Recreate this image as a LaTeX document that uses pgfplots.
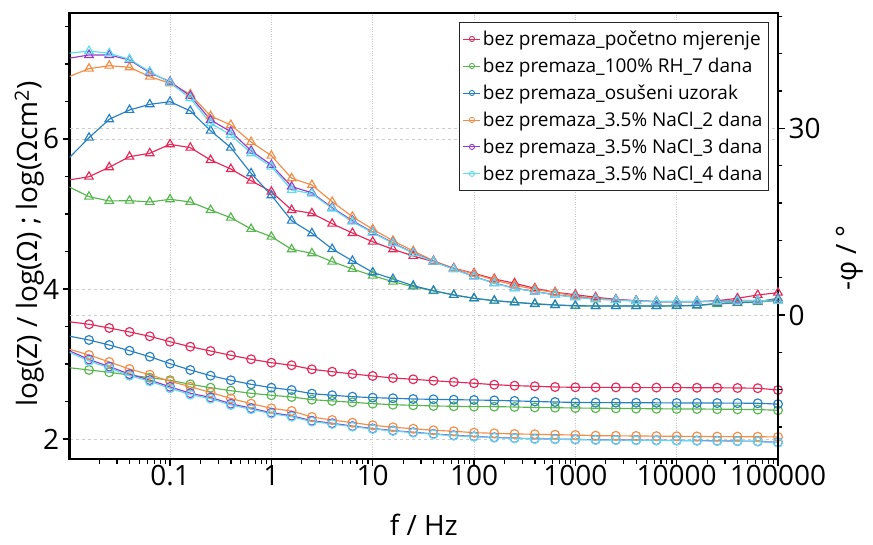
\documentclass[border=0pt]{standalone}
\usepackage{fontspec}
\setmainfont{Open Sans}
\usepackage{pgfplots}
\usepackage{pgfplotstable}
\pgfplotsset{compat=1.18}

\definecolor{cred}{RGB}{228,40,88}
\definecolor{cgreen}{RGB}{88,182,78}
\definecolor{cblue}{RGB}{38,128,196}
\definecolor{corange}{RGB}{243,140,68}
\definecolor{cpurple}{RGB}{150,58,200}
\definecolor{ccyan}{RGB}{88,222,240}

% log|Z| (circles)
\pgfplotstableread{
f      Zr     Zg     Zb     Zo     Zp     Zc
0.01   3.564  2.951  3.373  3.200  3.180  3.160
0.01585 3.529 2.920  3.320  3.120  3.060  3.040
0.02512 3.480 2.889  3.253  3.027  2.965  2.947
0.03981 3.427 2.853  3.177  2.933  2.865  2.844
0.06310 3.369 2.817  3.097  2.857  2.785  2.769
0.1    3.297  2.783  3.004  2.769  2.695  2.676
0.1585 3.231  2.729  2.920  2.697  2.610  2.591
0.2512 3.173  2.684  2.844  2.620  2.553  2.537
0.3981 3.116  2.644  2.783  2.540  2.470  2.453
0.6310 3.063  2.609  2.729  2.471  2.410  2.396
1      3.017  2.583  2.684  2.409  2.350  2.337
1.585  2.983  2.560  2.653  2.373  2.310  2.297
2.512  2.929  2.524  2.604  2.293  2.243  2.231
3.981  2.897  2.507  2.583  2.253  2.210  2.200
6.310  2.867  2.489  2.564  2.217  2.172  2.164
10     2.840  2.471  2.551  2.183  2.140  2.133
15.85  2.813  2.457  2.543  2.156  2.113  2.107
25.12  2.796  2.449  2.533  2.137  2.090  2.084
39.81  2.777  2.440  2.529  2.116  2.068  2.063
63.10  2.760  2.436  2.524  2.103  2.049  2.044
100    2.743  2.431  2.520  2.084  2.035  2.031
158.5  2.724  2.431  2.515  2.076  2.021  2.017
251.2  2.711  2.427  2.508  2.067  2.012  2.009
398.1  2.703  2.420  2.500  2.063  2.003  2.000
631.0  2.693  2.417  2.493  2.057  1.999  1.996
1000   2.689  2.413  2.487  2.053  1.994  1.991
1585   2.688  2.410  2.485  2.044  1.990  1.987
2512   2.688  2.408  2.484  2.042  1.988  1.985
3981   2.685  2.405  2.483  2.040  1.986  1.983
6310   2.685  2.403  2.482  2.038  1.983  1.980
10000  2.685  2.400  2.481  2.036  1.981  1.978
15850  2.683  2.400  2.480  2.034  1.979  1.976
25120  2.683  2.397  2.479  2.032  1.976  1.973
39810  2.680  2.395  2.478  2.031  1.972  1.970
63100  2.677  2.392  2.476  2.030  1.968  1.966
100000 2.653  2.383  2.465  2.027  1.955  1.951
}\Ztab

% -phase (triangles)
\pgfplotstableread{
f      Pr     Pg     Pb     Po     Pp     Pc
0.01   21.70  20.63  25.19  38.31  41.27  42.07
0.01585 22.23 19.02  28.50  39.60  41.80  42.44
0.02512 23.75 18.33  31.46  40.08  41.80  42.07
0.03981 25.45 18.38  32.96  39.82  41.00  41.11
0.06310 26.00 18.17  33.87  38.31  38.95  39.12
0.1    27.44  18.60  34.29  37.25  37.50  37.35
0.1585 26.90  18.17  32.80  35.48  35.21  34.84
0.2512 24.92  16.88  29.63  31.99  31.35  30.82
0.3981 23.47  15.64  26.90  30.55  29.47  28.94
0.6310 21.59  13.83  22.78  27.81  26.41  26.00
1      19.82  12.59  19.24  25.61  24.12  23.84
1.585  16.88  10.56  15.16  21.98  20.63  20.10
2.512  16.35   9.92  13.14  20.90  19.66  19.50
3.981  14.68   8.57  10.61  18.21  17.25  17.12
6.310  13.18   7.40   8.71  15.80  15.16  15.00
10     11.78   6.32   6.86  13.78  13.30  13.23
15.85  10.56   5.35   5.79  11.94  11.60  11.53
25.12   9.49   4.55   4.71  10.29   9.98   9.92
39.81   8.57   3.86   3.91   8.73   8.62   8.57
63.10   7.51   3.22   3.22   7.51   7.40   7.35
100     6.70   2.68   2.68   6.59   6.20   6.16
158.5   5.79   2.30   2.30   5.63   5.13   5.10
251.2   5.10   2.04   2.04   4.77   4.32   4.29
398.1   4.29   1.82   1.77   4.13   3.78   3.75
631.0   3.65   1.61   1.61   3.59   3.25   3.22
1000    3.26   1.45   1.50   3.05   2.88   2.85
1585    2.85   1.45   1.45   2.68   2.55   2.52
2512    2.52   1.45   1.45   2.41   2.43   2.41
3981    2.30   1.45   1.45   2.25   2.27   2.25
6310    2.14   1.45   1.45   2.14   2.16   2.14
10000   2.14   1.45   1.47   2.14   2.16   2.14
15850   2.14   1.50   1.55   2.14   2.16   2.14
25120   2.30   1.77   1.88   2.17   2.22   2.20
39810   2.68   1.93   1.98   2.25   2.32   2.30
63100   3.22   2.09   2.14   2.25   2.32   2.30
100000  3.59   2.30   2.68   2.41   2.30   2.25
}\Ptab

\pgfplotsset{
  zline/.style={line width=1.15pt, mark=o, mark size=4.4pt, mark options={line width=1.15pt}, mark repeat=1, mark phase=1},
  pline/.style={line width=1.15pt, mark=triangle, mark size=4.9pt, mark options={line width=1.15pt}, mark repeat=1, mark phase=1},
}

\begin{document}
\begin{tikzpicture}
\path[use as bounding box] (-69.6pt,-85pt) rectangle (803.4pt,459pt);

\begin{axis}[
  scale only axis, width=708.4pt, height=446pt,
  at={(0,0)}, anchor=south west,
  xmode=log, xmin=0.0102, xmax=100000,
  tick align=outside,
  major tick length=7pt, minor tick length=4.5pt,
  every tick/.style={black, line width=1.2pt},
  axis line style={line width=2.2pt},
  tick label style={font=\fontsize{28}{30}\selectfont},
  xticklabel style={yshift=4pt},
  label style={font=\fontsize{28}{30}\selectfont},
  ymin=1.733, ymax=7.68,
  xtick={0.1,1,10,100,1000,10000,100000},
  xticklabels={0.1,1,10,100,1000,10000,100000},
  minor xtick={0.02,0.03,0.04,0.05,0.06,0.07,0.08,0.09,
    0.2,0.3,0.4,0.5,0.6,0.7,0.8,0.9,
    2,3,4,5,6,7,8,9,20,30,40,50,60,70,80,90,
    200,300,400,500,600,700,800,900,2000,3000,4000,5000,6000,7000,8000,9000,
    20000,30000,40000,50000,60000,70000,80000,90000},
  xtick pos=bottom, ytick pos=left,
  ytick={2,4,6}, yticklabels={2,4,6},
  minor ytick={2.5,3,3.5,4.5,5,5.5,6.5,7,7.5},
  xmajorgrids, ymajorgrids,
  x grid style={dotted, black!22, line width=0.8pt},
  y grid style={dashed, black!20, line width=0.8pt},
  xlabel={f / Hz},
  xlabel style={at={(axis description cs:0.5,0)}, anchor=center, yshift=-66pt},
  ylabel={log(Z) / log(Ω) ; log(Ωcm\textsuperscript{2})},
  ylabel style={at={(axis description cs:0,0.5)}, anchor=center, yshift=40pt, xshift=-8pt},
]
\addplot[zline, cred]    table[x=f, y=Zr] {\Ztab};
\addplot[zline, cgreen]  table[x=f, y=Zg] {\Ztab};
\addplot[zline, cblue]   table[x=f, y=Zb] {\Ztab};
\addplot[zline, corange] table[x=f, y=Zo] {\Ztab};
\addplot[zline, cpurple] table[x=f, y=Zp] {\Ztab};
\addplot[zline, ccyan]   table[x=f, y=Zc] {\Ztab};
\end{axis}

\begin{axis}[
  scale only axis, width=708.4pt, height=446pt,
  at={(0,0)}, anchor=south west,
  xmode=log, xmin=0.0102, xmax=100000,
  tick align=outside,
  major tick length=7pt, minor tick length=4.5pt,
  every tick/.style={black, line width=1.2pt},
  axis line style={line width=2.2pt},
  tick label style={font=\fontsize{28}{30}\selectfont},
  label style={font=\fontsize{28}{30}\selectfont},
  ymin=-23.15, ymax=48.55,
  hide x axis,
  axis y line*=right,
  ytick pos=right,
  ytick={0,30}, yticklabels={0,30},
  minor ytick={-18,-12,-6,6,12,18,24,36,42,48},
  ymajorgrids,
  y grid style={dashed, black!20, line width=0.8pt},
  ylabel={-φ / °},
  ylabel style={at={(axis description cs:1,0.5)}, anchor=center, yshift=-72pt, xshift=-22pt},
  legend cell align=left,
  legend style={at={(1,1)}, anchor=north east, xshift=-9pt, yshift=-9pt,
    font=\fontsize{19}{23}\selectfont, draw=black!85, line width=0.9pt, fill=white,
    inner xsep=4pt, inner ysep=6.5pt, row sep=7pt},
]
\addplot[pline, cred, forget plot]    table[x=f, y=Pr] {\Ptab};
\addplot[pline, cgreen, forget plot]  table[x=f, y=Pg] {\Ptab};
\addplot[pline, cblue, forget plot]   table[x=f, y=Pb] {\Ptab};
\addplot[pline, corange, forget plot] table[x=f, y=Po] {\Ptab};
\addplot[pline, cpurple, forget plot] table[x=f, y=Pp] {\Ptab};
\addplot[pline, ccyan, forget plot]   table[x=f, y=Pc] {\Ptab};
\addlegendimage{cred, mark=o, mark size=2.6pt, line width=0.9pt}
\addlegendentry{bez premaza\_početno mjerenje}
\addlegendimage{cgreen, mark=o, mark size=2.6pt, line width=0.9pt}
\addlegendentry{bez premaza\_100\% RH\_7 dana}
\addlegendimage{cblue, mark=o, mark size=2.6pt, line width=0.9pt}
\addlegendentry{bez premaza\_osušeni uzorak}
\addlegendimage{corange, mark=o, mark size=2.6pt, line width=0.9pt}
\addlegendentry{bez premaza\_3.5\% NaCl\_2 dana}
\addlegendimage{cpurple, mark=o, mark size=2.6pt, line width=0.9pt}
\addlegendentry{bez premaza\_3.5\% NaCl\_3 dana}
\addlegendimage{ccyan, mark=o, mark size=2.6pt, line width=0.9pt}
\addlegendentry{bez premaza\_3.5\% NaCl\_4 dana}
\end{axis}
\end{tikzpicture}
\end{document}
